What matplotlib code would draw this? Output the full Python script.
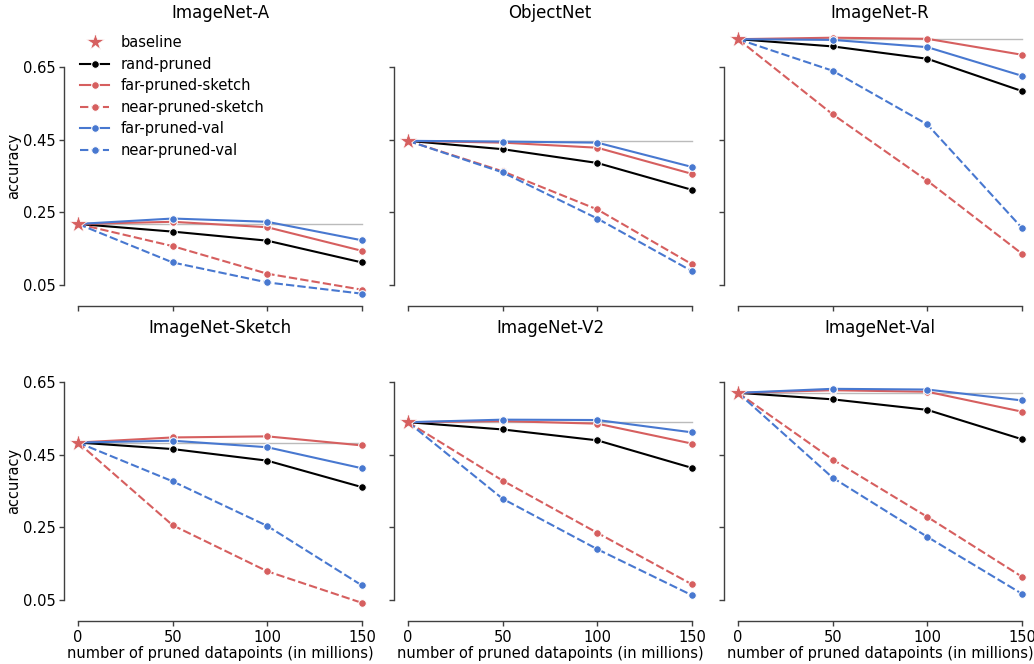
import matplotlib
matplotlib.use("Agg")
import matplotlib.pyplot as plt
from matplotlib.lines import Line2D

x = [0, 50, 100, 150]
datasets = ["ImageNet-A", "ObjectNet", "ImageNet-R",
            "ImageNet-Sketch", "ImageNet-V2", "ImageNet-Val"]

baseline = {"ImageNet-A": 0.218, "ObjectNet": 0.447, "ImageNet-R": 0.727,
            "ImageNet-Sketch": 0.484, "ImageNet-V2": 0.540, "ImageNet-Val": 0.621}

rand_pruned = {
    "ImageNet-A": [0.197, 0.172, 0.112],
    "ObjectNet": [0.424, 0.386, 0.312],
    "ImageNet-R": [0.707, 0.673, 0.584],
    "ImageNet-Sketch": [0.466, 0.434, 0.361],
    "ImageNet-V2": [0.520, 0.490, 0.414],
    "ImageNet-Val": [0.603, 0.574, 0.493],
}
far_pruned_sketch = {
    "ImageNet-A": [0.224, 0.209, 0.144],
    "ObjectNet": [0.442, 0.428, 0.356],
    "ImageNet-R": [0.731, 0.728, 0.684],
    "ImageNet-Sketch": [0.498, 0.501, 0.476],
    "ImageNet-V2": [0.543, 0.536, 0.481],
    "ImageNet-Val": [0.628, 0.624, 0.569],
}
near_pruned_sketch = {
    "ImageNet-A": [0.157, 0.081, 0.037],
    "ObjectNet": [0.363, 0.258, 0.107],
    "ImageNet-R": [0.520, 0.337, 0.136],
    "ImageNet-Sketch": [0.256, 0.129, 0.042],
    "ImageNet-V2": [0.379, 0.235, 0.093],
    "ImageNet-Val": [0.437, 0.279, 0.114],
}
far_pruned_val = {
    "ImageNet-A": [0.233, 0.224, 0.173],
    "ObjectNet": [0.445, 0.442, 0.375],
    "ImageNet-R": [0.725, 0.705, 0.626],
    "ImageNet-Sketch": [0.489, 0.471, 0.413],
    "ImageNet-V2": [0.547, 0.546, 0.512],
    "ImageNet-Val": [0.632, 0.630, 0.600],
}
near_pruned_val = {
    "ImageNet-A": [0.112, 0.057, 0.026],
    "ObjectNet": [0.360, 0.233, 0.088],
    "ImageNet-R": [0.640, 0.492, 0.207],
    "ImageNet-Sketch": [0.377, 0.254, 0.090],
    "ImageNet-V2": [0.329, 0.190, 0.063],
    "ImageNet-Val": [0.387, 0.224, 0.067],
}

yticks = [0.05, 0.25, 0.45, 0.65]
xticks = [0, 50, 100, 150]

RED = "#d65f5f"
BLUE = "#4878d0"

plt.rcParams.update({
    "font.family": "DejaVu Sans",
    "axes.linewidth": 1.0,
    "xtick.major.width": 1.0,
    "ytick.major.width": 1.0,
    "xtick.major.size": 3.5,
    "ytick.major.size": 3.5,
    "xtick.major.pad": 2.5,
    "ytick.major.pad": 2.5,
    "xtick.labelsize": 10.5,
    "ytick.labelsize": 10.5,
    "axes.labelsize": 10.5,
    "axes.titlesize": 12,
    "legend.fontsize": 10.5,
})

fig = plt.figure(figsize=(10.34, 6.64), dpi=100)
W, H = 1034, 664
lefts = [63.8, 393.8, 723.8]
width = 312.4
rows = [(25.0, 306.4), (340.2, 621.4)]

series = [
    ("rand-pruned", rand_pruned, "black", "-"),
    ("far-pruned-sketch", far_pruned_sketch, RED, "-"),
    ("near-pruned-sketch", near_pruned_sketch, RED, "--"),
    ("far-pruned-val", far_pruned_val, BLUE, "-"),
    ("near-pruned-val", near_pruned_val, BLUE, "--"),
]

axes = []
for i, name in enumerate(datasets):
    r, c = divmod(i, 3)
    top, bot = rows[r]
    ax = fig.add_axes([lefts[c] / W, (H - bot) / H, width / W, (bot - top) / H])
    axes.append(ax)
    b = baseline[name]
    ax.plot([x[0], x[-1]], [b, b], color="#bbbbbb", lw=1.0, zorder=1)
    for label, d, col, ls in series:
        ys = [b] + d[name]
        kw = dict(dashes=(4, 1.5)) if ls == "--" else {}
        ax.plot(x, ys, color=col, lw=1.5, marker="o", ms=5.5,
                mec="white", mew=0.75, zorder=3, label=label, **kw)
    ax.scatter([0], [b], marker="*", s=170, color=RED, edgecolor="white",
               linewidth=0.5, zorder=5, label="baseline")
    ax.set_xlim(-7.5, 157.5)
    ax.set_ylim(-0.009, 0.766)
    ax.set_xticks(xticks)
    ax.set_yticks(yticks)
    ax.set_title(name, pad=5)
    for s in ["top", "right"]:
        ax.spines[s].set_visible(False)
    ax.spines["left"].set_bounds(yticks[0], yticks[-1])
    ax.spines["bottom"].set_bounds(xticks[0], xticks[-1])
    for s in ["left", "bottom"]:
        ax.spines[s].set_color("0.25")
    ax.tick_params(colors="0.25", labelcolor="black")
    if c == 0:
        ax.set_ylabel("accuracy", labelpad=1)
        ax.set_yticklabels([f"{t:.2f}" for t in yticks])
    else:
        ax.set_yticklabels([])
    if r == 1:
        ax.set_xlabel("number of pruned datapoints (in millions)", labelpad=1)
        ax.set_xticklabels([str(t) for t in xticks])
    else:
        ax.set_xticklabels([])

handles = [Line2D([], [], ls="", marker="*", ms=13, color=RED, mec="white", mew=0.5)]
labels = ["baseline"]
for label, d, col, ls in series:
    kw = dict(dashes=(4, 1.5)) if ls == "--" else {}
    handles.append(Line2D([], [], color=col, lw=1.5, marker="o", ms=5.5,
                          mec="white", mew=0.75, **kw))
    labels.append(label)
axes[0].legend(handles, labels, loc="upper left", frameon=False,
               bbox_to_anchor=(0.02, 1.0), borderaxespad=0.3,
               labelspacing=0.45, handlelength=2.0)

fig.savefig("out.png", dpi=100)
